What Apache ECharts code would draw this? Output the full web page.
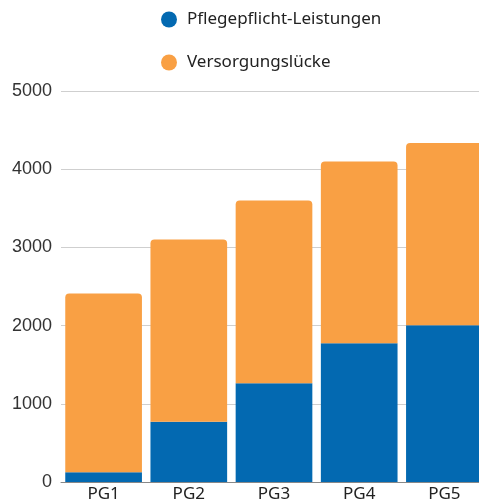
<!DOCTYPE html>
<html>
<head>
<meta charset="utf-8">
<script src="https://cdn.jsdelivr.net/npm/echarts@6/dist/echarts.min.js"></script>
<style>
  html, body { margin: 0; padding: 0; background: #fff; }
  #chart { width: 479px; height: 504px; }
</style>
</head>
<body>
<div id="chart"></div>
<script>
const categories = ['PG1', 'PG2', 'PG3', 'PG4', 'PG5'];
const pflegeLeistungen = [125, 770, 1262, 1775, 2005];
const versorgungsluecke = [2285, 2330, 2338, 2325, 2330];
const yTicks = [0, 1000, 2000, 3000, 4000, 5000];

const myChart = echarts.init(document.getElementById('chart'));

const option = {
  animation: false,
  textStyle: { fontFamily: 'Noto Sans' },
  legend: {
    orient: 'vertical',
    left: 156,
    top: 6,
    icon: 'circle',
    itemWidth: 16,
    itemHeight: 16,
    itemGap: 26,
    textStyle: { fontSize: 17, color: '#222', fontFamily: 'Noto Sans', padding: [0, 0, 0, 5] },
    data: ['Pflegepflicht-Leistungen', 'Versorgungslücke']
  },
  grid: {
    left: 61,
    right: -8,
    top: 91,
    bottom: 22,
    outerBoundsMode: 'none'
  },
  xAxis: {
    type: 'category',
    data: categories,
    axisTick: { show: false },
    axisLine: { lineStyle: { color: '#888', width: 1 } },
    axisLabel: { color: '#222', fontSize: 17, margin: 4 }
  },
  yAxis: {
    type: 'value',
    min: yTicks[0],
    max: yTicks[yTicks.length - 1],
    interval: 1000,
    axisLabel: {
      color: '#333',
      fontSize: 18,
      fontFamily: 'Liberation Sans',
      margin: 9,
      formatter: (v) => String(v)
    },
    splitLine: { lineStyle: { color: '#cfcfcf' } }
  },
  series: [
    {
      name: 'Pflegepflicht-Leistungen',
      type: 'bar',
      stack: 'total',
      barCategoryGap: '10%',
      data: pflegeLeistungen,
      itemStyle: { color: '#0369b1' }
    },
    {
      name: 'Versorgungslücke',
      type: 'bar',
      stack: 'total',
      data: versorgungsluecke,
      itemStyle: { color: '#f9a044', borderRadius: [4, 4, 0, 0] }
    }
  ]
};

myChart.setOption(option);
</script>
</body>
</html>
